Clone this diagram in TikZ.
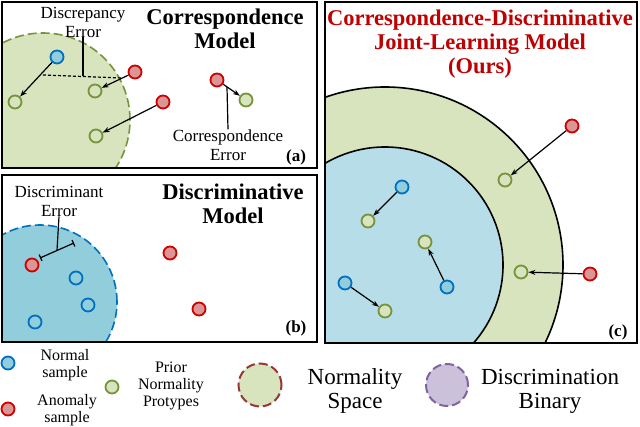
\documentclass[tikz,border=0pt]{standalone}
\usepackage{fontspec}
\setmainfont{Liberation Serif}
\usetikzlibrary{arrows.meta}

\definecolor{nblue}{HTML}{0070C0}
\definecolor{nbluefill}{HTML}{92CDDC}
\definecolor{innerblue}{HTML}{B7DEE8}
\definecolor{ared}{HTML}{D00000}
\definecolor{aredfill}{HTML}{DA9694}
\definecolor{pgreen}{HTML}{77933C}
\definecolor{pgreenfill}{HTML}{D7E4BD}
\definecolor{darkred}{HTML}{953735}
\definecolor{lpurple}{HTML}{CCC1DA}
\definecolor{dpurple}{HTML}{8064A2}
\definecolor{titlered}{HTML}{C00000}

\tikzset{
  frame/.style={line width=2.5pt},
  normalpt/.style={circle,draw=nblue,fill=nbluefill,line width=1.8pt,minimum size=13pt,inner sep=0pt},
  anompt/.style={circle,draw=ared,fill=aredfill,line width=1.8pt,minimum size=13pt,inner sep=0pt},
  protopt/.style={circle,draw=pgreen,fill=pgreenfill,line width=1.8pt,minimum size=13pt,inner sep=0pt},
  arr/.style={-{Stealth[length=7pt,width=5pt]},line width=1.2pt},
  errline/.style={line width=1.2pt},
  lbl/.style={align=center,inner sep=0pt,font=\fontsize{17}{19}\selectfont},
  ttl/.style={align=center,inner sep=0pt,font=\fontsize{22.5}{24}\selectfont\bfseries},
  tag/.style={inner sep=0pt,font=\fontsize{17}{17}\selectfont\bfseries},
  leg/.style={align=center,inner sep=0pt,font=\fontsize{16}{17}\selectfont},
  legbig/.style={align=center,inner sep=0pt,font=\fontsize{23}{24}\selectfont},
}

\begin{document}
\begin{tikzpicture}[x=1pt,y=-1pt]
\useasboundingbox (0,0) rectangle (640,427);
%\draw[step=20,gray,very thin] (0,0) grid (640,427); %background grid

% (a) correspondence model
\begin{scope}
\clip (2,2) rectangle (317,168);
\draw[pgreen,fill=pgreenfill,line width=1.6pt,dash pattern=on 9pt off 4pt] (43,120) circle (87pt);
\end{scope}
\draw[frame] (2,2) rectangle (317,168);

\node[normalpt] (aN) at (57,57) {};
\node[protopt] (aP1) at (15,102) {};
\node[anompt] (aA1) at (135,72) {};
\node[protopt] (aP2) at (95,91) {};
\node[anompt] (aA2) at (163,102) {};
\node[protopt] (aP3) at (96,136) {};
\node[anompt] (aA3) at (217,80) {};
\node[protopt] (aP4) at (246,100) {};

\draw[arr] (aN) -- (aP1);
\draw[arr] (aA1) -- (aP2);
\draw[arr] (aA2) -- (aP3);
\draw[arr] (aA3) -- (aP4);

\coordinate (dA) at (43,75);
\coordinate (dB) at (122,78);
\coordinate (dM) at (83,76.5);
\coordinate (cE) at (227,87);
\draw[errline,dash pattern=on 3pt off 2pt] (dA) -- (dB);

\node[lbl] (discLbl) at (83,22) {Discrepancy\\Error};
\draw[errline] (discLbl.south) -- (dM);
\node[ttl] (aTtl) at (225,29) {Correspondence\\Model};
\node[lbl] (corrLbl) at (228,145) {Correspondence\\Error};
\draw[errline] (cE) -- (corrLbl.north);
\node[tag] (aTag) at (296,157) {(a)};

% (b) discriminative model
\begin{scope}
\clip (2,175) rectangle (317,342);
\draw[nblue,fill=nbluefill,line width=1.6pt,dash pattern=on 9pt off 4pt] (40,302) circle (77pt);
\end{scope}
\draw[frame] (2,175) rectangle (317,342);

\node[anompt] (bA1) at (32,265) {};
\node[normalpt] (bN1) at (76,278) {};
\node[normalpt] (bN2) at (88,305) {};
\node[normalpt] (bN3) at (35,322) {};
\node[anompt] (bA2) at (170,253) {};
\node[anompt] (bA3) at (199,309) {};

\coordinate (bE1) at (40,258);
\coordinate (bE2) at (74,243);
\coordinate (bEM) at (57,250.5);
\draw[errline,{Bar[width=7pt]}-{Bar[width=7pt]}] (bE1) -- (bE2);
\node[lbl] (discrLbl) at (59,201) {Discriminant\\Error};
\draw[errline] (discrLbl.south) -- (bEM);
\node[ttl] (bTtl) at (233,204) {Discriminative\\Model};
\node[tag] (bTag) at (296,328) {(b)};

% (c) joint-learning model
\begin{scope}
\clip (325,2) rectangle (637,343);
\draw[line width=1.6pt,fill=pgreenfill] (385,265) circle (178pt);
\draw[line width=1.6pt,fill=innerblue] (385,265) circle (118pt);
\end{scope}
\draw[frame] (325,2) rectangle (637,343);

\node[anompt] (cA1) at (572,126) {};
\node[protopt] (cP1) at (505,180) {};
\node[normalpt] (cN1) at (402,187) {};
\node[protopt] (cP2) at (368,221) {};
\node[protopt] (cP3) at (425,242) {};
\node[normalpt] (cN2) at (447,287) {};
\node[normalpt] (cN3) at (345,283) {};
\node[protopt] (cP4) at (385,311) {};
\node[protopt] (cP5) at (521,272) {};
\node[anompt] (cA2) at (590,274) {};

\draw[arr] (cA1) -- (cP1);
\draw[arr] (cN1) -- (cP2);
\draw[arr] (cN2) -- (cP3);
\draw[arr] (cN3) -- (cP4);
\draw[arr] (cA2) -- (cP5);

\node[ttl,text=titlered] (cTtl) at (480,44) {Correspondence-Discriminative\\Joint-Learning Model\\(Ours)};
\node[tag] (cTag) at (618,332) {(c)};

% legend
\node[normalpt] (lN) at (8,363) {};
\node[leg] (lNt) at (65,365) {Normal\\sample};
\node[anompt] (lA) at (8,409) {};
\node[leg] (lAt) at (67,410) {Anomaly\\sample};
\node[protopt] (lP) at (112,387) {};
\node[leg] (lPt) at (171,386) {Prior\\Normality\\Protypes};
\node[circle,draw=darkred,fill=pgreenfill,line width=2pt,dash pattern=on 9pt off 4pt,minimum size=43pt,inner sep=0pt] (lS) at (260,385) {};
\node[legbig] (lSt) at (355,391) {Normality\\Space};
\node[circle,draw=dpurple,fill=lpurple,line width=2pt,dash pattern=on 9pt off 4pt,minimum size=42pt,inner sep=0pt] (lB) at (447,385) {};
\node[legbig] (lBt) at (550,391) {Discrimination\\Binary};

\end{tikzpicture}
\end{document}
